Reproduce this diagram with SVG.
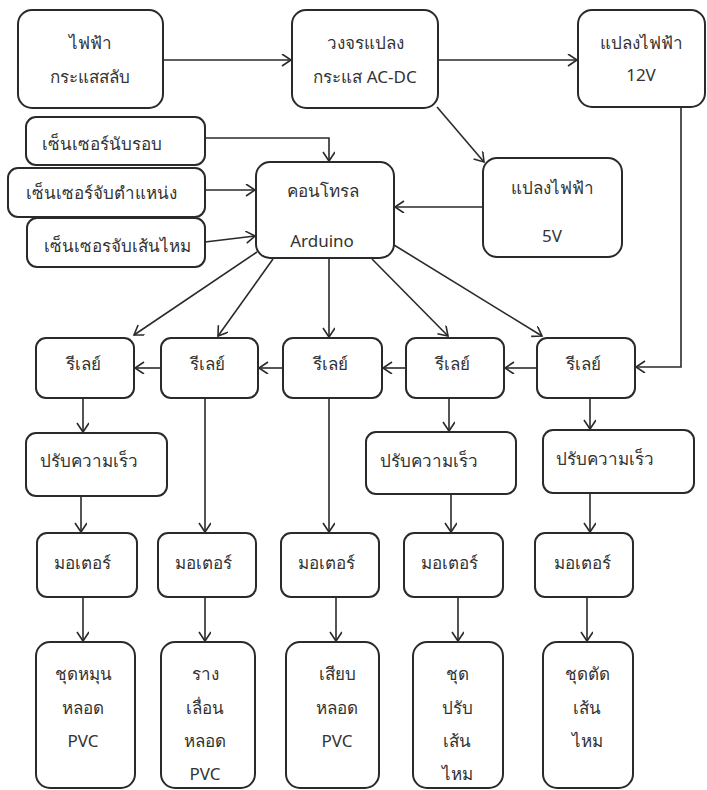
<svg xmlns="http://www.w3.org/2000/svg" width="707" height="790" viewBox="0 0 707 790">
<style>
.box{fill:#fff;stroke:#2a2a2a;stroke-width:2}
.t{font-family:"Noto Sans",sans-serif;font-size:17px;fill:#333;text-anchor:middle;dominant-baseline:central}
.ts{text-anchor:start}
.c{fill:none;stroke:#2a2a2a;stroke-width:1.6}
</style>
<defs>
<marker id="a" markerUnits="userSpaceOnUse" markerWidth="14" markerHeight="14" refX="10" refY="6" orient="auto" viewBox="0 0 14 14">
<path d="M1,0 L10,6 L1,12" fill="none" stroke="#2a2a2a" stroke-width="1.6"/>
</marker>
</defs>
<rect width="707" height="790" fill="#fff"/>
<g id="connectors" class="c" marker-end="url(#a)">
<path d="M163,60 H291"/>
<path d="M438,60 H577"/>
<path d="M437,107 L484,162"/>
<path d="M681,107 V367 H636"/>
<path d="M483,207 H395"/>
<path d="M205,138 H329 V161"/>
<path d="M205,190 H255"/>
<path d="M205,242 L255,236"/>
<path d="M257,252 L134,335"/>
<path d="M273,259 L218,336"/>
<path d="M329,258 V337"/>
<path d="M372,259 L448,336"/>
<path d="M394,245 L542,336"/>
<path d="M161,368 H135"/>
<path d="M283,368 H259"/>
<path d="M406,368 H383"/>
<path d="M537,368 H505"/>
<path d="M83,398 V432"/>
<path d="M449,398 V431"/>
<path d="M590,398 V429"/>
<path d="M205,398 V532"/>
<path d="M329,398 V532"/>
<path d="M81,496 V532"/>
<path d="M451,494 V532"/>
<path d="M590,493 V532"/>
<path d="M83,597 V641"/>
<path d="M205,597 V641"/>
<path d="M336,597 V641"/>
<path d="M458,597 V641"/>
<path d="M587,597 V641"/>
</g>
<g id="ac"><rect class="box" x="18" y="10" width="145" height="98" rx="14"/><text class="t" x="90" y="42">ไฟฟ้า</text><text class="t" x="90" y="76">กระแสสลับ</text></g>
<g id="acdc"><rect class="box" x="292" y="10" width="146" height="98" rx="14"/><text class="t" x="365" y="42">วงจรแปลง</text><text class="t" x="365" y="76">กระแส AC-DC</text></g>
<g id="v12"><rect class="box" x="578" y="10" width="127" height="97" rx="14"/><text class="t" x="641" y="42">แปลงไฟฟ้า</text><text class="t" x="641" y="74">12V</text></g>
<g id="s1"><rect class="box" x="26" y="117" width="179" height="48" rx="10"/><text class="t" x="102" y="143">เซ็นเซอร์นับรอบ</text></g>
<g id="s2"><rect class="box" x="8" y="168" width="197" height="49" rx="10"/><text class="t" x="101" y="192">เซ็นเซอร์จับตำแหน่ง</text></g>
<g id="s3"><rect class="box" x="27" y="218" width="178" height="49" rx="10"/><text class="t" x="117" y="245">เซ็นเซอรจับเส้นไหม</text></g>
<g id="arduino"><rect class="box" x="256" y="162" width="138" height="96" rx="14"/><text class="t" x="323" y="190">คอนโทรล</text><text class="t" x="322" y="240">Arduino</text></g>
<g id="v5"><rect class="box" x="483" y="158" width="139" height="99" rx="14"/><text class="t" x="552" y="187">แปลงไฟฟ้า</text><text class="t" x="552" y="235">5V</text></g>
<g id="r1"><rect class="box" x="36" y="338" width="98" height="60" rx="10"/><text class="t" x="83" y="363">รีเลย์</text></g>
<g id="r2"><rect class="box" x="161" y="338" width="97" height="60" rx="10"/><text class="t" x="207" y="363">รีเลย์</text></g>
<g id="r3"><rect class="box" x="283" y="338" width="99" height="60" rx="10"/><text class="t" x="330" y="363">รีเลย์</text></g>
<g id="r4"><rect class="box" x="406" y="338" width="98" height="60" rx="10"/><text class="t" x="452" y="363">รีเลย์</text></g>
<g id="r5"><rect class="box" x="537" y="338" width="98" height="60" rx="10"/><text class="t" x="583" y="363">รีเลย์</text></g>
<g id="sp1"><rect class="box" x="26" y="433" width="141" height="63" rx="10"/><text class="t ts" x="40" y="460">ปรับความเร็ว</text></g>
<g id="sp4"><rect class="box" x="366" y="432" width="150" height="62" rx="10"/><text class="t ts" x="380" y="460">ปรับความเร็ว</text></g>
<g id="sp5"><rect class="box" x="543" y="430" width="151" height="63" rx="10"/><text class="t ts" x="556" y="458">ปรับความเร็ว</text></g>
<g id="m1"><rect class="box" x="37" y="533" width="100" height="64" rx="10"/><text class="t" x="82" y="562">มอเตอร์</text></g>
<g id="m2"><rect class="box" x="158" y="533" width="98" height="64" rx="10"/><text class="t" x="203" y="562">มอเตอร์</text></g>
<g id="m3"><rect class="box" x="281" y="533" width="98" height="64" rx="10"/><text class="t" x="326" y="562">มอเตอร์</text></g>
<g id="m4"><rect class="box" x="404" y="533" width="99" height="64" rx="10"/><text class="t" x="449" y="562">มอเตอร์</text></g>
<g id="m5"><rect class="box" x="535" y="533" width="98" height="64" rx="10"/><text class="t" x="582" y="562">มอเตอร์</text></g>
<g id="b1"><rect class="box" x="36" y="642" width="99" height="146" rx="14"/><text class="t" x="83" y="673">ชุดหมุน</text><text class="t" x="83" y="707">หลอด</text><text class="t" x="83" y="740">PVC</text></g>
<g id="b2"><rect class="box" x="161" y="642" width="94" height="146" rx="14"/><text class="t" x="205" y="673">ราง</text><text class="t" x="205" y="707">เลื่อน</text><text class="t" x="205" y="740">หลอด</text><text class="t" x="205" y="773">PVC</text></g>
<g id="b3"><rect class="box" x="286" y="642" width="93" height="146" rx="14"/><text class="t" x="337" y="673">เสียบ</text><text class="t" x="337" y="707">หลอด</text><text class="t" x="337" y="740">PVC</text></g>
<g id="b4"><rect class="box" x="413" y="642" width="90" height="146" rx="14"/><text class="t" x="457" y="673">ชุด</text><text class="t" x="457" y="707">ปรับ</text><text class="t" x="457" y="740">เส้น</text><text class="t" x="457" y="773">ไหม</text></g>
<g id="b5"><rect class="box" x="543" y="642" width="90" height="146" rx="14"/><text class="t" x="587" y="673">ชุดตัด</text><text class="t" x="587" y="707">เส้น</text><text class="t" x="587" y="740">ไหม</text></g>
</svg>
